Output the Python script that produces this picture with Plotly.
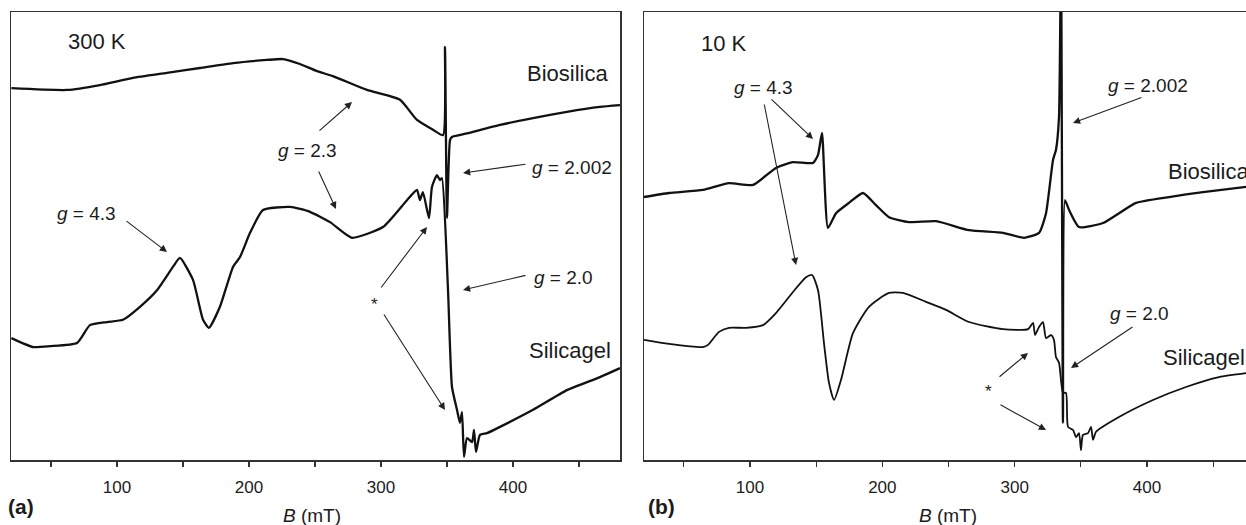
import plotly.graph_objects as go

# ---------------- data (B in mT, intensity in arbitrary units) ----------------
# Panel (a) 300 K
a_bio_B = [20, 62.1, 87.1, 112.1, 137.9, 162.9, 187.9, 213.6, 225.8, 238.6, 251.5, 263.6,
           289.4, 314.4, 327.3, 339.4, 347.0, 348.5, 350.0, 352.3, 353.8, 365.2, 390.2,
           415.2, 440.9, 465.9, 481.1]
a_bio_I = [83.0, 82.6, 83.7, 85.3, 86.4, 87.5, 88.6, 89.3, 89.5, 88.4, 86.8, 85.7,
           82.6, 80.4, 75.9, 73.7, 72.5, 92.2, 54.0, 71.4, 72.1, 72.9, 74.8,
           76.3, 77.7, 78.8, 79.2]

a_sil_B = [20, 36.4, 49.2, 69.7, 79.5, 92.4, 104.5, 117.4, 130.3, 142.4, 147.7, 157.6,
           165.2, 169.7, 178.0, 187.9, 193.2, 200.8, 210.6, 231.1, 246.2, 261.4, 278.0,
           301.5, 319.7, 327.3, 329.5, 331.8, 336.4, 338.6, 342.4, 344.7, 346.2, 350.8,
           353.8, 357.6, 359.8, 361.4, 362.9, 365.2, 369.0, 370.5, 372.0, 375.0, 380.3,
           390.2, 415.2, 440.9, 465.9, 481.1]
a_sil_I = [27.2, 25.2, 25.4, 26.1, 30.1, 30.8, 31.3, 34.2, 37.9, 43.1, 45.1, 40.2,
           31.3, 29.5, 34.2, 43.1, 45.3, 50.7, 55.8, 56.5, 55.4, 53.1, 49.6,
           52.0, 58.0, 60.3, 58.0, 59.8, 54.0, 60.9, 63.6, 62.5, 62.9, 37.9,
           16.3, 11.2, 8.3, 10.7, 0.7, 4.9, 4.0, 6.7, 1.8, 5.6, 6.0,
           7.4, 11.2, 15.6, 18.5, 20.5]

# Panel (b) 10 K
b_bio_B = [19.9, 38.8, 64.5, 84.1, 102.3, 119.6, 132.5, 147.6, 151.4, 154.4, 158.9, 165.0,
           174.8, 185.4, 195.2, 205.0, 220.2, 240.6, 265.5, 291.2, 307.1, 318.4, 323.7,
           329.0, 331.2, 333.5, 335.0, 336.5, 338.0, 341.1, 348.6, 366.8, 391.7, 416.6,
           442.3, 481.0]
b_bio_I = [58.7, 59.6, 60.3, 61.8, 61.4, 65.2, 66.5, 66.3, 68.1, 73.0, 51.8, 55.1,
           57.4, 59.6, 56.9, 54.2, 53.1, 53.3, 51.3, 50.7, 49.6, 50.7, 55.1,
           67.0, 69.2, 76.6, 115.0, 8.3, 58.0, 55.8, 52.0, 52.9, 57.4, 58.7,
           59.8, 61.2]

b_sil_B = [19.9, 38.8, 64.5, 68.3, 76.6, 84.1, 97.0, 109.8, 119.6, 132.5, 142.3, 146.9,
           151.4, 155.9, 159.7, 163.5, 168.8, 177.8, 189.9, 205.0, 215.6, 233.0, 248.1,
           265.5, 291.2, 310.1, 313.9, 315.4, 318.4, 321.4, 323.7, 327.5, 329.7, 331.2,
           333.5, 336.5, 338.8, 340.3, 344.1, 346.4, 348.6, 350.1, 351.6, 355.4, 357.7,
           359.2, 361.5, 378.8, 404.5, 429.5, 454.4, 481.0]
b_sil_I = [26.8, 25.9, 25.2, 25.7, 28.6, 29.5, 29.5, 30.1, 32.8, 37.5, 40.8, 41.3,
           37.9, 26.1, 17.2, 13.4, 17.9, 28.3, 34.2, 37.3, 37.3, 35.3, 33.5,
           30.8, 29.2, 29.2, 30.6, 27.9, 29.7, 30.8, 27.2, 27.9, 26.8, 23.0,
           21.7, 15.0, 15.0, 7.4, 6.7, 5.1, 6.0, 2.2, 5.6, 6.0, 7.4,
           4.5, 6.3, 9.6, 13.4, 16.3, 18.5, 19.6]

tick_vals = [100, 200, 300, 400]
tick_text = ["100", "200", "300", "400"]
minor_vals = [50, 150, 250, 350, 450]

# ---------------- layout geometry (page pixels) ----------------
W, H = 1246, 525
ML, MR, MT, MB = 11, 0, 12, 65
PW, PH = W - ML - MR, H - MT - MB
A_L, A_R = 11, 620
B_L, B_R = 644, 1246
A_RANGE = [19.7, 481.1]
B_RANGE = [19.9, 474.8]
Y_RANGE = [0, 100]

def dom(l, r):
    return [(l - ML) / PW, (r - ML) / PW]

def xp(px):
    return (px - ML) / PW

def yp(py):
    return (MT + PH - py) / PH

def data_x(px, panel):
    l, r, rng = (A_L, A_R, A_RANGE) if panel == "a" else (B_L, B_R, B_RANGE)
    return rng[0] + (px - l) / (r - l) * (rng[1] - rng[0])

def data_y(py):
    return (MT + PH - py) / PH * 100

FONT = "Liberation Sans, Arial, Helvetica, sans-serif"
INK = "#1c1c1c"

fig = go.Figure()
line_noisy = dict(color="#111111", width=2.3, shape="spline", smoothing=0.5)
fig.add_trace(go.Scatter(x=a_bio_B, y=a_bio_I, mode="lines", line=line_noisy, xaxis="x", yaxis="y"))
fig.add_trace(go.Scatter(x=a_sil_B, y=a_sil_I, mode="lines", line=line_noisy, xaxis="x", yaxis="y"))
fig.add_trace(go.Scatter(x=b_bio_B, y=b_bio_I, mode="lines", line=line_noisy, xaxis="x2", yaxis="y2"))
fig.add_trace(go.Scatter(x=b_sil_B, y=b_sil_I, mode="lines",
                         line=dict(color="#111111", width=1.8, shape="spline", smoothing=0.6),
                         xaxis="x2", yaxis="y2"))

xaxis_common = dict(
    showline=True, linecolor="#333333", linewidth=1.5, mirror=True,
    ticks="outside", ticklen=5, tickwidth=1.2, tickcolor="#333333",
    tickvals=tick_vals, ticktext=tick_text, ticklabelstandoff=6,
    minor=dict(tickvals=minor_vals, ticks="outside", ticklen=5, tickwidth=1.2,
               tickcolor="#333333"),
    tickfont=dict(family=FONT, size=17, color=INK),
    showgrid=False, zeroline=False, fixedrange=True,
)
yaxis_common = dict(
    showline=True, linecolor="#333333", linewidth=1.5,
    showticklabels=False, ticks="", showgrid=False, zeroline=False, range=Y_RANGE,
    fixedrange=True,
)

fig.update_layout(
    width=W, height=H,
    margin=dict(l=ML, r=MR, t=MT, b=MB),
    paper_bgcolor="white", plot_bgcolor="white",
    showlegend=False, hovermode=False,
    xaxis=dict(domain=dom(A_L, A_R), range=A_RANGE, anchor="y", **xaxis_common),
    yaxis=dict(domain=[0, 1], anchor="x", mirror=True, **yaxis_common),
    xaxis2=dict(domain=dom(B_L, B_R), range=B_RANGE, anchor="y2", **xaxis_common),
    yaxis2=dict(domain=[0, 1], anchor="x2", mirror=False, **yaxis_common),
)

annotations = []

def label(px, py, text, size=19, anchor="center", bold=False):
    if bold:
        text = "<b>" + text + "</b>"
    annotations.append(dict(x=xp(px), y=yp(py), xref="paper", yref="paper", text=text,
                            showarrow=False, xanchor=anchor, yanchor="middle",
                            font=dict(family=FONT, size=size, color=INK)))

def arrow(panel, tail, head):
    xr, yr = ("x", "y") if panel == "a" else ("x2", "y2")
    annotations.append(dict(x=data_x(head[0], panel), y=data_y(head[1]), xref=xr, yref=yr,
                            ax=tail[0] - head[0], ay=tail[1] - head[1], axref="pixel", ayref="pixel",
                            text="", showarrow=True, arrowhead=2, arrowsize=1.3, arrowwidth=1.1,
                            arrowcolor="#222222", standoff=0, startstandoff=0))

g = "<i>g</i>"
# panel (a)
label(97, 41, "300 K", size=22)
label(567, 73, "Biosilica", size=22)
label(570, 350, "Silicagel", size=22)
label(307, 151, g + " = 2.3")
label(572, 167, g + " = 2.002")
label(86, 213, g + " = 4.3")
label(563, 277, g + " = 2.0")
label(374, 304, "*", size=17)
label(21, 507, "(a)", size=21, bold=True)
label(312, 515, "<i>B</i> (mT)", size=19)
arrow("a", (318, 132), (352, 102))
arrow("a", (318, 170), (336, 209))
arrow("a", (527, 164), (463, 173))
arrow("a", (125, 220), (167, 252))
arrow("a", (527, 275), (463, 290))
arrow("a", (380, 289), (427, 227))
arrow("a", (383, 313), (445, 410))

# panel (b)
label(724, 43, "10 K", size=22)
label(1166, 172, "Biosilica", size=22, anchor="left")
label(1161, 357, "Silicagel", size=22, anchor="left")
label(763, 88, g + " = 4.3")
label(1148, 85, g + " = 2.002")
label(1139, 313, g + " = 2.0")
label(988, 391, "*", size=17)
label(661, 507, "(b)", size=21, bold=True)
label(948, 515, "<i>B</i> (mT)", size=19)
arrow("b", (770, 98), (813, 139))
arrow("b", (764, 103), (796, 265))
arrow("b", (1143, 97), (1073, 123))
arrow("b", (1134, 326), (1071, 368))
arrow("b", (998, 378), (1028, 353))
arrow("b", (999, 404), (1046, 430))

fig.update_layout(annotations=annotations)
fig.write_html("out.html",
               config={"displayModeBar": False, "staticPlot": True},
               post_script="document.body.style.margin='0';document.body.style.overflow='hidden';")
